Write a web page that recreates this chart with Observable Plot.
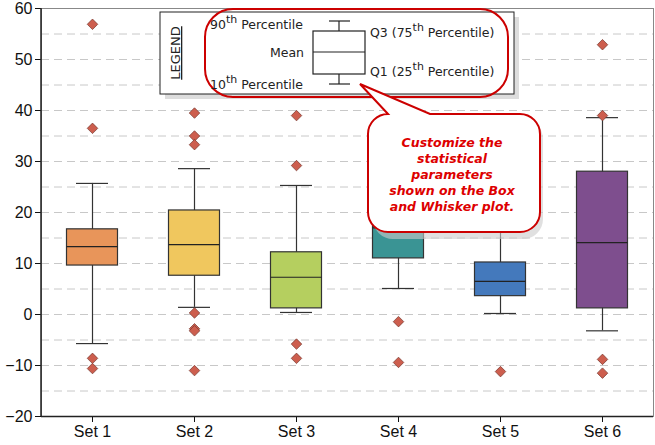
<!DOCTYPE html>
<html><head><meta charset="utf-8">
<script src="https://cdn.jsdelivr.net/npm/d3@7"></script>
<script src="https://cdn.jsdelivr.net/npm/@observablehq/plot@0.6"></script>
<style>body{margin:0;background:#fff}</style>
</head><body><div id="chart"></div>
<script>
const sets = ["Set 1","Set 2","Set 3","Set 4","Set 5","Set 6"];
const p10 = [-5.7, 1.4, 0.4, 5.1, 0.2, -3.2];
const q1 = [9.6, 7.6, 1.2, 11.0, 3.6, 1.2];
const med = [13.3, 13.7, 7.3, 17.0, 6.5, 14.1];
const q3 = [16.7, 20.4, 12.2, 22.0, 10.2, 28.0];
const p90 = [25.7, 28.6, 25.3, 30.0, 20.0, 38.6];
const colors = ["#E8955A","#F0C75E","#B5CF5F","#3A9494","#4479BC","#7E4E8E"];
const outliers = [
  [56.9, 36.5, -8.6, -10.6],
  [39.5, 35.0, 33.3, 0.3, -2.8, -3.2, -11.0],
  [39.0, 29.2, -5.8, -8.6],
  [-1.4, -9.4],
  [-11.2],
  [52.9, 39.0, -8.8, -11.5]
];
const yTicks = [-20,-10,0,10,20,30,40,50,60];
const gridLines = d3.range(-15, 60, 5);

const stats = sets.map((s,i)=>({set:s,p10:p10[i],q1:q1[i],med:med[i],q3:q3[i],p90:p90[i],color:colors[i]}));
const outs = sets.flatMap((s,i)=>outliers[i].map(v=>({set:s,v})));

const plot = Plot.plot({
  width: 655, height: 445,
  marginLeft: 41, marginRight: 2, marginTop: 8, marginBottom: 29,
  style: {fontFamily: "'Liberation Sans', Arial, sans-serif", fontSize: "16px", color: "#111"},
  x: {domain: sets, padding: 0, label: null, tickSize: 6},
  y: {domain: [-20, 60], ticks: yTicks, label: null, tickSize: 6},
  marks: [
    Plot.ruleY(gridLines, {stroke: "#c8c8c8", strokeDasharray: "8,5"}),
    Plot.ruleX(stats, {x: "set", y1: "p10", y2: "p90", stroke: "#333", strokeWidth: 1.2}),
    Plot.tickY(stats, {x: "set", y: "p90", stroke: "#333", strokeWidth: 1.2, inset: 35}),
    Plot.tickY(stats, {x: "set", y: "p10", stroke: "#333", strokeWidth: 1.2, inset: 35}),
    Plot.barY(stats, {x: "set", y1: "q1", y2: "q3", fill: "color", stroke: "#333", strokeWidth: 1.2, insetLeft: 25.5, insetRight: 25.5}),
    Plot.tickY(stats, {x: "set", y: "med", stroke: "#222", strokeWidth: 1.2, inset: 25.5}),
    Plot.dot(outs, {x: "set", y: "v", symbol: "square", rotate: 45, r: 4.2, fill: "#CD5E4E", stroke: "#7a3a30", strokeWidth: 0.7}),
    Plot.frame({stroke: "#888", strokeWidth: 1}),
    Plot.ruleY([-20], {stroke: "#222", strokeWidth: 1.5})
  ]
});
document.getElementById("chart").appendChild(plot);

const svg = d3.select(plot);
svg.append("line").attr("x1",41).attr("x2",41).attr("y1",8).attr("y2",416).attr("stroke","#222").attr("stroke-width",1.5);

// Legend annotation
const g = svg.append("g").style("font-family","'DejaVu Sans', Verdana, sans-serif").style("font-size","12.5px").attr("fill","#222");
g.append("rect").attr("x",165).attr("y",17).attr("width",354).attr("height",82).attr("fill","#ddd");
g.append("rect").attr("x",160).attr("y",12).attr("width",354).attr("height",82).attr("fill","#fff").attr("stroke","#222");
g.append("text").attr("transform","translate(180,53) rotate(-90)").attr("text-anchor","middle").attr("font-size","13px").attr("text-decoration","underline").text("LEGEND");
g.append("rect").attr("x",205).attr("y",9).attr("width",303).attr("height",88).attr("rx",28).attr("fill","none").attr("stroke","#c00").attr("stroke-width",2);
function sup(x,y,a,sup,b,anchor){
  const t=g.append("text").attr("x",x).attr("y",y).attr("text-anchor",anchor||"start");
  t.append("tspan").text(a);
  t.append("tspan").attr("dy",-6).attr("font-size","11px").text(sup);
  t.append("tspan").attr("dy",6).text(b);
}
sup(210,29,"90","th"," Percentile");
sup(210,89,"10","th"," Percentile");
g.append("text").attr("x",304).attr("y",57).attr("text-anchor","end").text("Mean");
sup(370,37,"Q3 (75","th"," Percentile)");
sup(370,76,"Q1 (25","th"," Percentile)");
const lg = g.append("g").attr("stroke","#222").attr("stroke-width",1.2);
lg.append("rect").attr("x",313).attr("y",31).attr("width",52).attr("height",43).attr("fill","#fff");
lg.append("line").attr("x1",313).attr("x2",365).attr("y1",52).attr("y2",52);
lg.append("line").attr("x1",339).attr("x2",339).attr("y1",21).attr("y2",31);
lg.append("line").attr("x1",329).attr("x2",350).attr("y1",21).attr("y2",21);
lg.append("line").attr("x1",339).attr("x2",339).attr("y1",74).attr("y2",84);
lg.append("line").attr("x1",329).attr("x2",350).attr("y1",84).attr("y2",84);

// Callout
const c = svg.append("g");
c.append("path").attr("d","M 373 119 h 150 a 20 20 0 0 1 20 20 v 80 a 20 20 0 0 1 -20 20 h -130 a 20 20 0 0 1 -20 -20 v -80 a 20 20 0 0 1 20 -20 Z").attr("fill","#ccc").attr("opacity",0.6);
c.append("path").attr("d","M 388 114 L 360 84 L 430 114 H 520 a 20 20 0 0 1 20 20 v 78 a 20 20 0 0 1 -20 20 h -132 a 20 20 0 0 1 -20 -20 v -78 a 20 20 0 0 1 20 -20 Z").attr("fill","#fff").attr("stroke","#c00").attr("stroke-width",2);
const lines=["Customize the","statistical","parameters","shown on the Box","and Whisker plot."];
lines.forEach((l,i)=>c.append("text").attr("x",452).attr("y",147+i*16).attr("text-anchor","middle")
  .attr("fill","#d00").attr("font-weight","bold").attr("font-style","italic")
  .style("font-family","Verdana, 'DejaVu Sans', sans-serif").style("font-size","12.5px").text(l));
</script></body></html>
